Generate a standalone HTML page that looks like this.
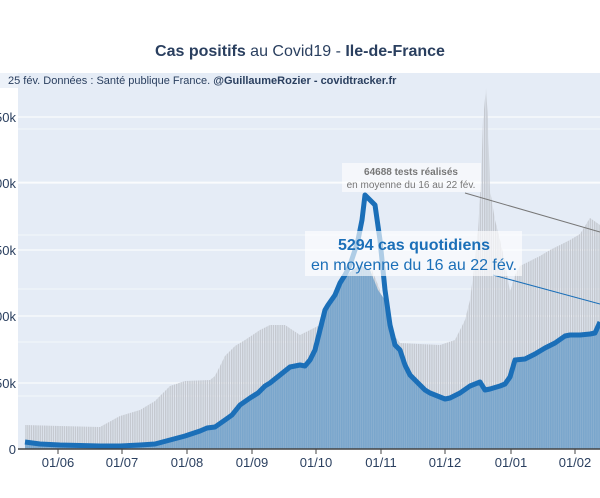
<!DOCTYPE html>
<html><head><meta charset="utf-8"><style>
body{margin:0;width:600px;height:493px;overflow:hidden;background:#fff;font-family:"Liberation Sans",sans-serif;}
</style></head><body>
<svg width="600" height="493" xmlns="http://www.w3.org/2000/svg" font-family="Liberation Sans, sans-serif">
<defs>
<pattern id="st" width="2.2" height="10" patternUnits="userSpaceOnUse"><rect width="1.5" height="10" fill="#c5c9d0"/></pattern>
<pattern id="sb" width="2.2" height="10" patternUnits="userSpaceOnUse"><rect width="2.2" height="10" fill="#8fb2d2"/><rect width="1.5" height="10" fill="#7aa6cc"/></pattern>
</defs>
<rect x="18" y="73" width="582" height="376" fill="#e5ecf6"/>
<g stroke="#fff" stroke-width="1">
<line x1="18" x2="600" y1="117" y2="117"/><line x1="18" x2="600" y1="183" y2="183"/><line x1="18" x2="600" y1="250" y2="250"/><line x1="18" x2="600" y1="316" y2="316"/><line x1="18" x2="600" y1="383" y2="383"/>
<line x1="18" x2="600" y1="129" y2="129" opacity=".6"/><line x1="18" x2="600" y1="182" y2="182" opacity=".6"/><line x1="18" x2="600" y1="235" y2="235" opacity=".6"/><line x1="18" x2="600" y1="289" y2="289" opacity=".6"/><line x1="18" x2="600" y1="342" y2="342" opacity=".6"/><line x1="18" x2="600" y1="396" y2="396" opacity=".6"/>
</g>
<polygon fill="url(#st)" points="25,449 25,425 60,426 100,427 120,416 140,410 155,401 170,386 185,381 210,380 215,376 225,356 235,346 245,340 260,330 270,325 285,325 300,335 310,330 320,325 340,305 360,275 372,270 380,290 390,330 400,343 440,345 455,340 465,320 470,300 475,260 478,230 481,180 483,120 486,88 488,120 490,190 495,220 500,240 505,262 510,292 515,275 520,266 530,261 540,256 550,250 560,245 570,240 580,234 590,218 600,225 600,449"/>
<polygon fill="url(#sb)" points="25,449 25,442 60,445 120,446 155,444 170,440 185,436 200,431 215,427 225,420 240,405 250,398 265,386 280,375 290,367 305,366 315,350 320,330 328,305 340,285 350,272 360,265 370,270 378,290 385,300 390,325 400,350 410,375 420,385 440,397 450,398 465,390 480,382 485,390 505,384 515,360 530,357 545,348 560,340 570,335 595,333 600,322 600,449"/>
<polyline fill="none" stroke="#1b6fb8" stroke-width="5" stroke-linejoin="round" points="25,442 40,444 60,445 100,446 120,446 140,445 155,444 170,440 185,436 200,431 207,428 215,427 225,420 232,415 240,405 250,398 258,393 265,386 270,383 280,375 290,367 300,365 305,366 310,360 315,350 320,330 325,310 328,305 335,295 340,283 345,275 350,265 355,250 358,240 362,220 365,195 370,200 375,205 380,240 385,290 390,325 395,345 400,350 405,365 410,375 415,380 420,385 425,390 430,393 440,397 445,399 450,398 460,393 470,386 480,382 485,390 490,389 500,386 505,384 510,377 515,360 525,359 535,354 545,348 555,343 565,336 570,335 580,335 590,334 595,333 600,322"/>
<line x1="18" x2="600" y1="449" y2="449" stroke="#444" stroke-width="1.5"/>
<g stroke="#444"><line x1="58" x2="58" y1="449" y2="454"/><line x1="122" x2="122" y1="449" y2="454"/><line x1="187" x2="187" y1="449" y2="454"/><line x1="252" x2="252" y1="449" y2="454"/><line x1="316" x2="316" y1="449" y2="454"/><line x1="381" x2="381" y1="449" y2="454"/><line x1="445" x2="445" y1="449" y2="454"/><line x1="511" x2="511" y1="449" y2="454"/><line x1="575" x2="575" y1="449" y2="454"/></g>
<g font-size="13" fill="#2a3f5f" text-anchor="middle">
<text x="58" y="467">01/06</text><text x="122" y="467">01/07</text><text x="187" y="467">01/08</text><text x="252" y="467">01/09</text><text x="316" y="467">01/10</text><text x="381" y="467">01/11</text><text x="445" y="467">01/12</text><text x="511" y="467">01/01</text><text x="575" y="467">01/02</text>
</g>
<g font-size="13" fill="#2a3f5f" text-anchor="end">
<text x="16" y="122">250k</text><text x="16" y="188">200k</text><text x="16" y="255">150k</text><text x="16" y="321">100k</text><text x="16" y="388">50k</text><text x="16" y="454">0</text>
</g>
<line x1="465" y1="193" x2="600" y2="232" stroke="#777" stroke-width="1"/>
<line x1="493" y1="275" x2="600" y2="304" stroke="#1b6fb8" stroke-width="1"/>
<rect x="342" y="163" width="139" height="29" fill="#fff" opacity=".6"/>
<text x="411" y="175" font-size="10" font-weight="bold" fill="#777" text-anchor="middle">64688 tests réalisés</text>
<text x="411" y="188" font-size="10" fill="#777" text-anchor="middle">en moyenne du 16 au 22 fév.</text>
<rect x="305" y="231" width="217" height="45" fill="#fff" opacity=".65"/>
<text x="414" y="250" font-size="16" font-weight="bold" fill="#1b6fb8" text-anchor="middle">5294 cas quotidiens</text>
<text x="414" y="270" font-size="16" fill="#1b6fb8" text-anchor="middle">en moyenne du 16 au 22 fév.</text>
<rect x="0" y="73" width="600" height="15" fill="#e5ecf6" opacity=".7"/>
<text x="8" y="84" font-size="11" fill="#2a3f5f">25 fév. Données : Santé publique France. <tspan font-weight="bold">@GuillaumeRozier - covidtracker.fr</tspan></text>
<text x="300" y="56" font-size="16" fill="#2a3f5f" text-anchor="middle"><tspan font-weight="bold">Cas positifs</tspan> au Covid19 - <tspan font-weight="bold">Ile-de-France</tspan></text>
</svg>
</body></html>
